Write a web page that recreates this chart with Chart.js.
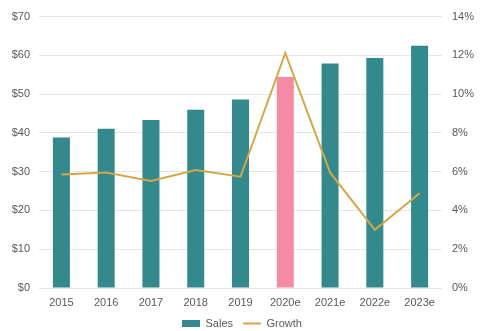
<!DOCTYPE html>
<html>
<head>
<meta charset="utf-8">
<script src="https://cdn.jsdelivr.net/npm/chart.js@4/dist/chart.umd.min.js"></script>
<style>
  html, body { margin: 0; padding: 0; background: #fff; }
  #wrap { width: 484px; height: 331px; }
</style>
</head>
<body>
<div id="wrap"><canvas id="chart"></canvas></div>
<script>
const years = ['2015', '2016', '2017', '2018', '2019', '2020e', '2021e', '2022e', '2023e'];
const sales = [38.8, 41.1, 43.3, 46.0, 48.6, 54.4, 57.9, 59.3, 62.5];
const growth = [5.86, 5.96, 5.52, 6.09, 5.74, 12.12, 5.96, 3.0, 4.89];
const salesTicks = [0, 10, 20, 30, 40, 50, 60, 70];
const growthTicks = [0, 2, 4, 6, 8, 10, 12, 14];

const teal = '#33898b';
const pink = '#f48ba3';
const gold = '#d6a749';
const textColor = '#595959';

Chart.defaults.font.family = '"Liberation Sans", Arial, sans-serif';
Chart.defaults.font.size = 11;
Chart.defaults.color = textColor;

// 2020e is highlighted, the rest share one colour
const barColors = years.map(y => y === '2020e' ? pink : teal);

new Chart(document.getElementById('chart'), {
    type: 'bar',
    data: {
        labels: years,
        datasets: [
            {
                label: 'Sales',
                data: sales,
                backgroundColor: barColors,
                borderWidth: 0,
                barPercentage: 0.38,
                categoryPercentage: 1,
                pointStyle: 'rect',
                yAxisID: 'y',
                order: 1
            },
            {
                type: 'line',
                label: 'Growth',
                data: growth,
                borderColor: gold,
                backgroundColor: gold,
                borderWidth: 2,
                pointRadius: 0,
                tension: 0,
                pointStyle: 'line',
                yAxisID: 'y1',
                order: 0
            }
        ]
    },
    options: {
        responsive: true,
        maintainAspectRatio: false,
        animation: false,
        // legend padding is generous for item spacing, so pull it down past the edge
        layout: { padding: { top: 6, bottom: -8 } },
        plugins: {
            tooltip: { enabled: false },
            legend: {
                position: 'bottom',
                labels: {
                    usePointStyle: true,
                    pointStyleWidth: 18,
                    boxHeight: 7,
                    padding: 10,
                    color: textColor,
                    sort: (a, b) => a.datasetIndex - b.datasetIndex
                }
            }
        },
        scales: {
            x: {
                grid: { display: false, drawTicks: false },
                border: { display: false },
                afterFit: axis => { axis.height = 20; },
                ticks: { padding: 8 }
            },
            y: {
                position: 'left',
                min: 0,
                max: 70,
                afterBuildTicks: axis => { axis.ticks = salesTicks.map(v => ({ value: v })); },
                afterFit: axis => { axis.width = 39; },
                ticks: { padding: 9, callback: v => '$' + v },
                grid: { color: '#e6e6e6', drawTicks: false },
                border: { display: false }
            },
            y1: {
                position: 'right',
                min: 0,
                max: 14,
                afterBuildTicks: axis => { axis.ticks = growthTicks.map(v => ({ value: v })); },
                afterFit: axis => { axis.width = 42; },
                ticks: { padding: 10, callback: v => v + '%' },
                grid: { display: false, drawTicks: false },
                border: { display: false }
            }
        }
    }
});
</script>
</body>
</html>
